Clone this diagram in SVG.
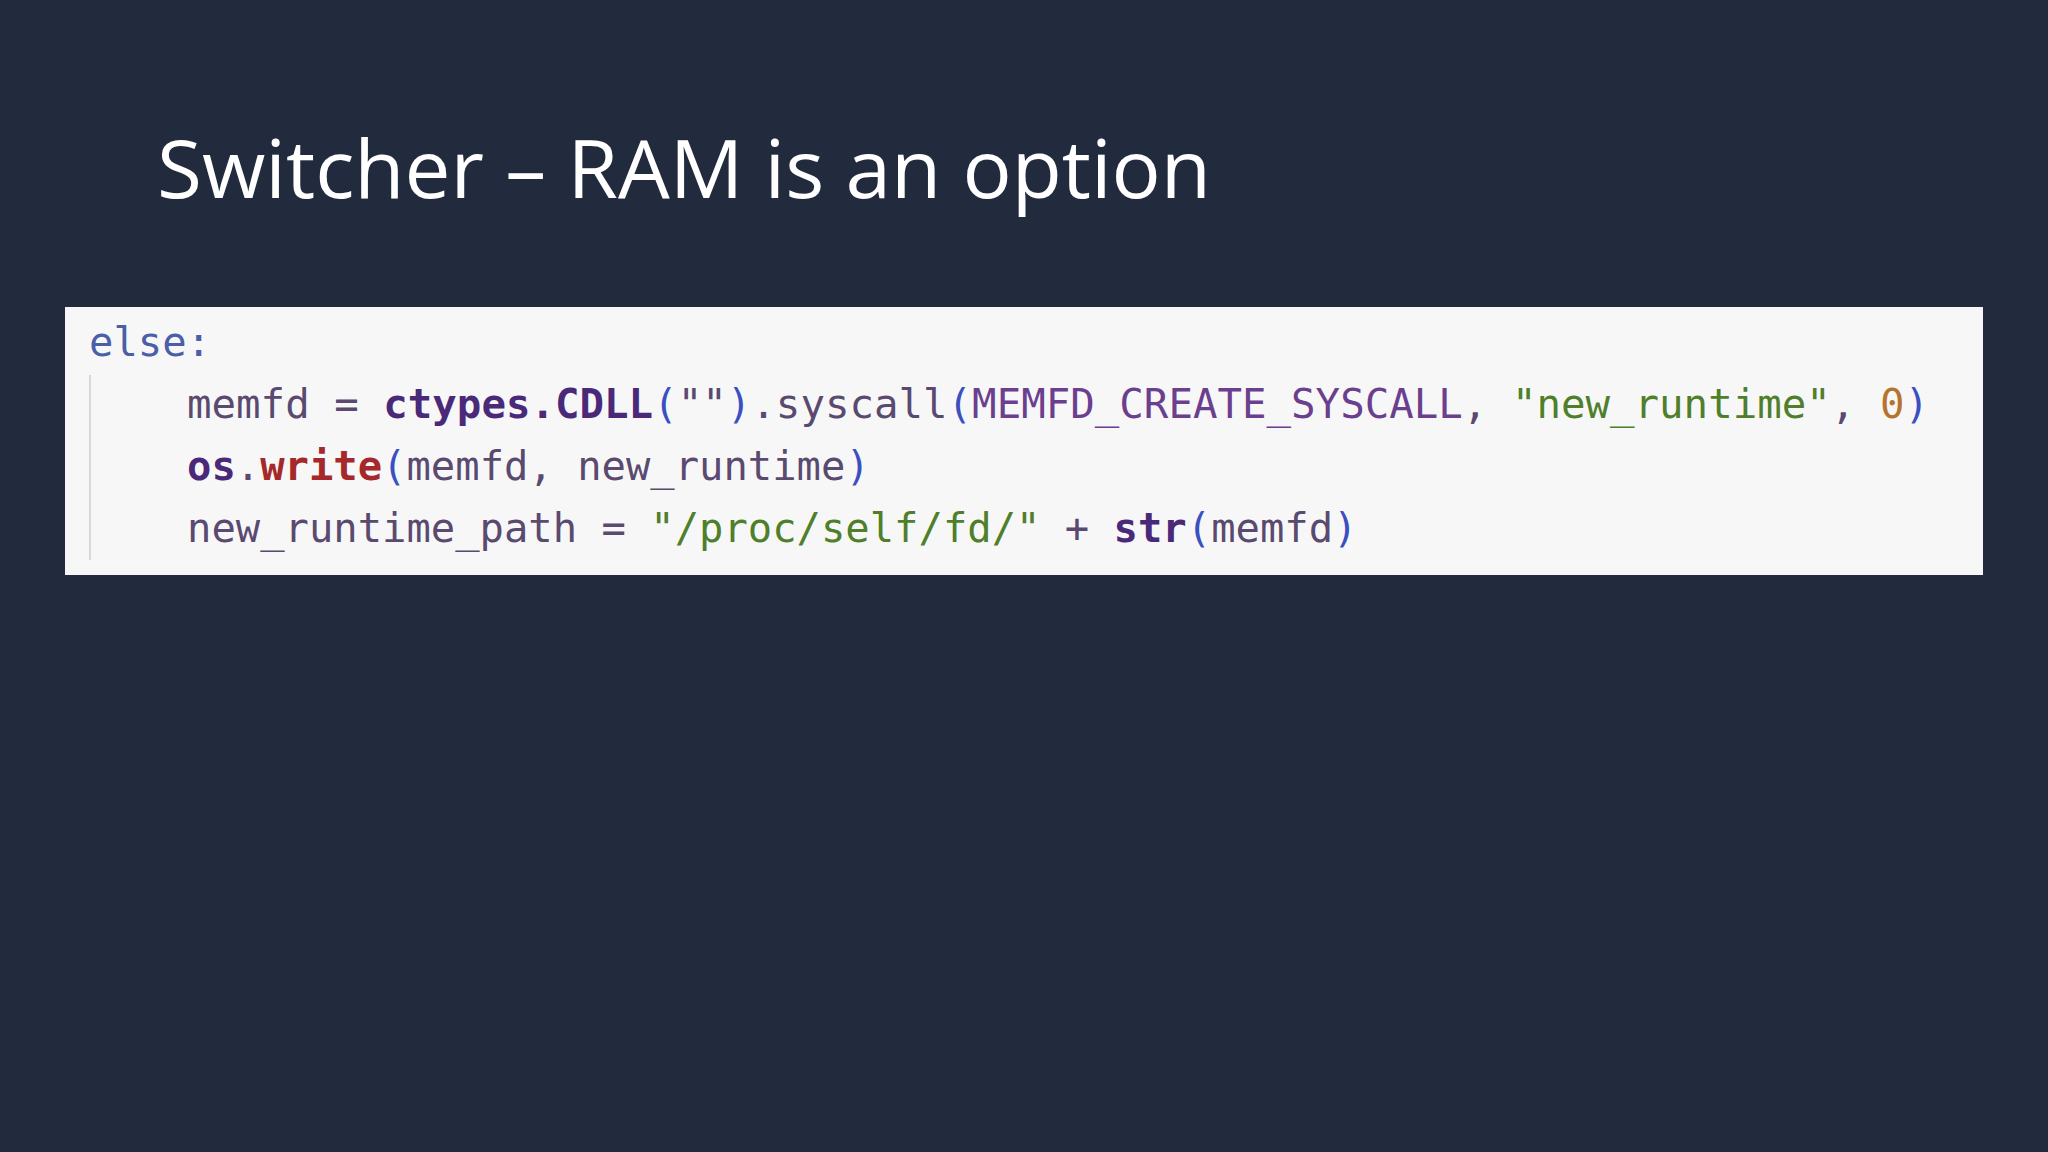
<svg xmlns="http://www.w3.org/2000/svg" width="2048" height="1152" viewBox="0 0 2048 1152">
<style>
.c{font-family:"DejaVu Sans Mono","Liberation Mono",monospace;font-size:40.5px;fill:#5a4a70}
.b{font-weight:bold;fill:#4a2a78}
.p{fill:#3a4fc0}
.s{fill:#4f7f2a}
.n{fill:#b5732e}
.k{fill:#4a5fa8}
.r{fill:#a5282a;font-weight:bold}
.m{fill:#6b3f8e}
</style>
<rect width="2048" height="1152" fill="#222a3e"/>
<g id="title"><text x="157" y="198" font-family="Open Sans, Liberation Sans, sans-serif" font-size="80" fill="#ffffff" textLength="1054" lengthAdjust="spacingAndGlyphs">Switcher – RAM is an option</text></g>
<g id="code">
<rect x="65" y="307" width="1918" height="268" fill="#f7f7f8"/>
<line x1="90" y1="375" x2="90" y2="560" stroke="#d8d8dc" stroke-width="2"/>
<text class="c" x="89" y="356"><tspan class="k">else:</tspan></text>
<text class="c" x="187" y="418" textLength="1742" lengthAdjust="spacingAndGlyphs">memfd = <tspan class="b">ctypes.CDLL</tspan><tspan class="p">(</tspan>""<tspan class="p">)</tspan>.syscall<tspan class="p">(</tspan><tspan class="m">MEMFD_CREATE_SYSCALL</tspan>, <tspan class="s">"new_runtime"</tspan>, <tspan class="n">0</tspan><tspan class="p">)</tspan></text>
<text class="c" x="187" y="480"><tspan class="b">os</tspan>.<tspan class="r">write</tspan><tspan class="p">(</tspan>memfd, new_runtime<tspan class="p">)</tspan></text>
<text class="c" x="187" y="542">new_runtime_path = <tspan class="s">"/proc/self/fd/"</tspan> + <tspan class="b">str</tspan><tspan class="p">(</tspan>memfd<tspan class="p">)</tspan></text>
</g>
</svg>
